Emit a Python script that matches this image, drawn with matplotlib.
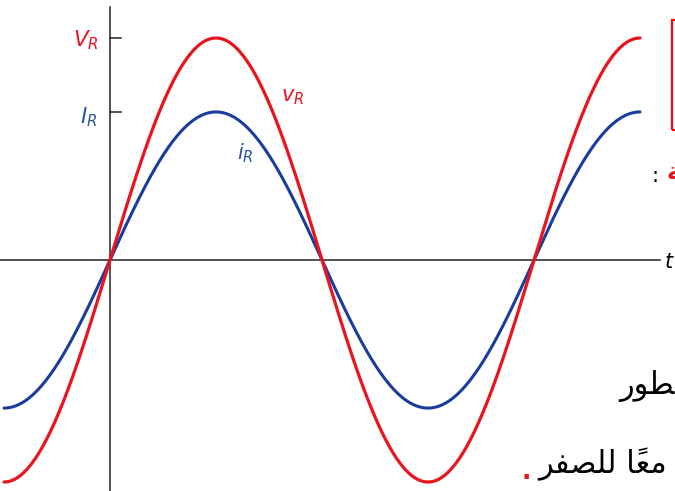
import matplotlib
matplotlib.use("Agg")
import matplotlib.pyplot as plt
import numpy as np
from matplotlib.patches import Rectangle

# amplitudes (V_R normalised to 1) and phase span of the curves, in degrees
V_AMP = 1.0
I_AMP = 0.667
PHASE_START = -90
PHASE_END = 450

RED = "#e8141e"
BLUE = "#1a3c9c"

W, H = 675, 491


def px(x, y):
    """pixel position -> axes fraction"""
    return x / W, 1 - y / H


fig = plt.figure(figsize=(6.75, 4.91), dpi=100)
ax = fig.add_axes([0, 0, 1, 1])
ax.set_xlim(-93.4, 479.7)
ax.set_ylim(-1.0405, 1.1712)
ax.axis("off")

plt.rcParams["mathtext.fontset"] = "dejavusans"

phase = np.linspace(PHASE_START, PHASE_END, 600)
ax.plot(phase, V_AMP * np.sin(np.radians(phase)), color=RED, lw=2.3,
        solid_capstyle="round", zorder=3)
ax.plot(phase, I_AMP * np.sin(np.radians(phase)), color=BLUE, lw=2.2,
        solid_capstyle="round", zorder=2)

# axes
ax.plot([-93.4, 467], [0, 0], color="#222222", lw=1.1, zorder=1)
ax.plot([0, 0], [-1.0405, 1.14], color="#222222", lw=1.1, zorder=1)
for amp in (V_AMP, I_AMP):
    ax.plot([0, 9.5], [amp, amp], color="#222222", lw=1.1)

ax.text(*px(99, 40), "$V_R$", transform=ax.transAxes, color=RED,
        fontsize=15.5, ha="right", va="center")
ax.text(*px(97, 117), "$I_R$", transform=ax.transAxes, color="#2a55a0",
        fontsize=15.5, ha="right", va="center")
ax.text(*px(293, 97), "$v_R$", transform=ax.transAxes, color=RED,
        fontsize=15, ha="center", va="center")
ax.text(*px(245, 153), "$i_R$", transform=ax.transAxes, color="#2a55a0",
        fontsize=15, ha="center", va="center")
ax.text(*px(664, 262), "$t$", transform=ax.transAxes, color="black",
        fontsize=15, ha="left", va="center")

# fragments of the surrounding page (cut off at the right edge)
ax.add_patch(Rectangle(px(672, 130), 40 / W, 110 / H, transform=ax.transAxes,
                       fill=False, edgecolor="#ff0000", lw=1.6, clip_on=False))
ax.text(*px(651, 176), ":", transform=ax.transAxes, color="black",
        fontsize=15, ha="left", va="center")
ax.text(*px(667, 172), "\uFE94", transform=ax.transAxes, color=RED,
        fontsize=17, ha="left", va="center", fontweight="bold")
ax.text(*px(619, 386), "\uFEAD\uFEEE\uFEC4", transform=ax.transAxes,
        color="black", fontsize=22, ha="left", va="center")
ax.text(*px(521, 472), ".", transform=ax.transAxes, color=RED,
        fontsize=18, ha="left", va="center", fontweight="bold")
ax.text(*px(538, 464), "\uFEAE\uFED4\uFEBC\uFEE0\uFEDF \uFE8E\u064B\uFECC\uFEE3",
        transform=ax.transAxes, color="black", fontsize=22, ha="left",
        va="center")

fig.savefig("out.png", dpi=100)
